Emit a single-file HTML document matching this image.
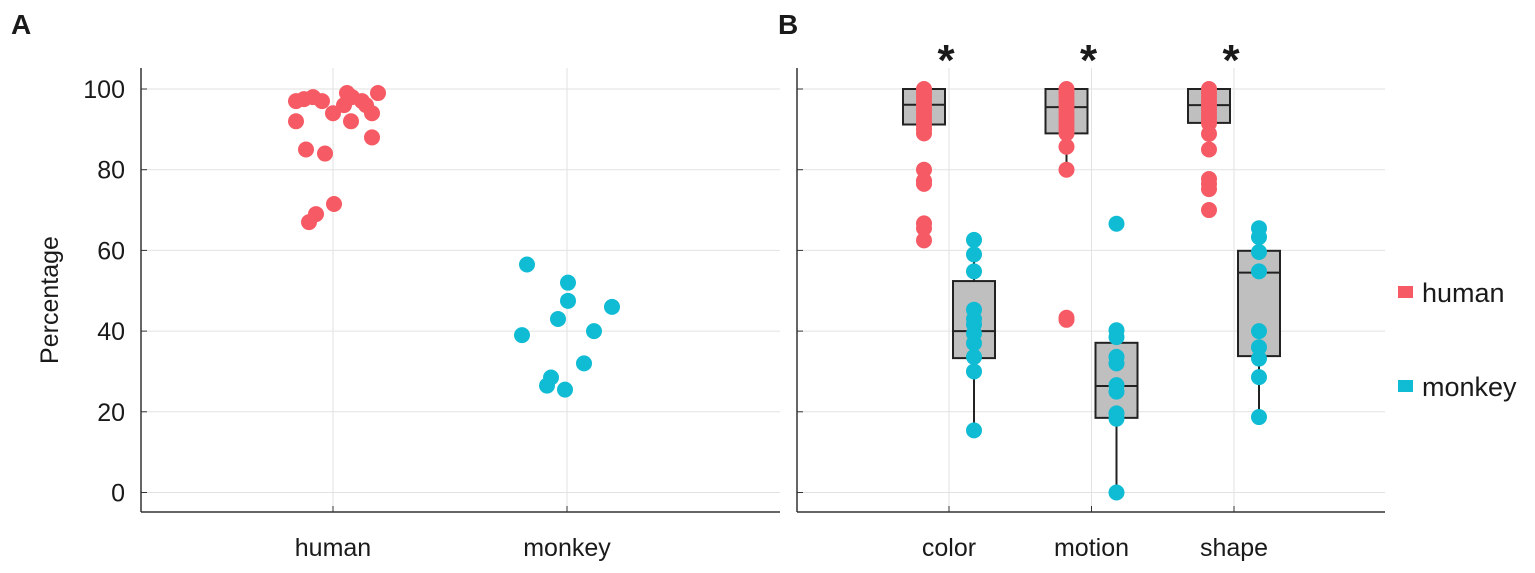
<!DOCTYPE html>
<html><head><meta charset="utf-8"><style>
body{margin:0;background:#fff;}
svg text{font-family:"Liberation Sans",sans-serif;fill:#1a1a1a;}
</style></head><body>
<svg id="chart" width="1535" height="568" viewBox="0 0 1535 568" xmlns="http://www.w3.org/2000/svg"></svg>
<script>
// Panel A data
const catsA = ["human","monkey"];
const humanA = [97,97.5,98,97,94,96,99,98,97,96,94,99,92,92,85,84,88,69,67,71.5];
const humanJit = [-37,-29,-20,-11,0,11,14,19,29,33,39,45,-37,18,-27,-8,39,-17,-24,1];
const monkeyA = [56.5,52,47.5,46,43,40,39,32,28.5,26.5,25.5];
const monkeyJit = [-40,1,1,45,-9,27,-45,17,-16,-20,-2];
// Panel B data
const catsB = ["color","motion","shape"];
const humanB = [
 [100,99,98,97,96,95,94,93,92,91,90,89,80,77.3,76.5,66.7,65.5,62.5],
 [100,99,98,97,96,95,94,93,92,91,90,89,85.7,80,43.3,42.8],
 [100,99,98,97,96,95,94,93,92,91.5,88.9,85,77.7,76.5,75.2,70]
];
const monkeyB = [
 [62.6,59,54.8,45.3,43,41.7,39.4,37,33.6,30,15.4],
 [66.6,40.2,38.5,33.6,32,26.6,25,19.6,18.3,0],
 [65.5,63.3,59.6,54.8,40,36,33.2,28.6,18.7]
];
// box stats: [whiskerLow, q1, median, q3, whiskerHigh]
const humanBox = [[88,91.2,96.1,100,100],[80,89,95.5,100,100],[88.9,91.6,96,100,100]];
const monkeyBox = [[15.4,33.3,40,52.4,62.6],[0,18.5,26.4,37.1,40.2],[18.7,33.8,54.5,59.9,65.5]];
const yTicks = [0,20,40,60,80,100];

const NS="http://www.w3.org/2000/svg";
const svg=document.getElementById('chart');
function mk(tag,attrs,parent){const e=document.createElementNS(NS,tag);for(const k in attrs)e.setAttribute(k,attrs[k]);(parent||svg).appendChild(e);return e;}
const yS=v=>492.5-4.035*v;
const axTop=68,axBottom=512;
const RED="#f65a64",CYAN="#10bcd4";
const xA=i=>333+i*234;
const xB=i=>949+i*142.5;
const FS=25;

// Panel A
let g=mk('g',{});


yTicks.forEach(t=>{
 const l=mk('line',{x1:141,x2:780,y1:yS(t),y2:yS(t),stroke:'#e2e2e2','stroke-width':1},g);
 
 
});
catsA.forEach((c,i)=>{
 const l=mk('line',{x1:xA(i),x2:xA(i),y1:axTop,y2:axBottom,stroke:'#e2e2e2'},g);
 
 
 const t=mk('text',{x:xA(i),y:556,'text-anchor':'middle','font-size':FS},g);t.textContent=c;
 
 
 mk('line',{x1:xA(i),x2:xA(i),y1:axBottom,y2:axBottom-6,stroke:'#333'},g);
});
yTicks.forEach(t=>{
 const tx=mk('text',{x:125,y:yS(t)+9,'text-anchor':'end','font-size':FS},g);tx.textContent=t;
 
 
 mk('line',{x1:141,x2:147,y1:yS(t),y2:yS(t),stroke:'#333'},g);
});
mk('line',{x1:141,x2:141,y1:axTop,y2:axBottom,stroke:'#333','stroke-width':1.5},g);
mk('line',{x1:141,x2:780,y1:axBottom,y2:axBottom,stroke:'#333','stroke-width':1.5},g);
let yl=mk('text',{x:0,y:0,transform:'translate(58,300) rotate(-90)','text-anchor':'middle','font-size':FS},g);yl.textContent='Percentage';


humanA.forEach((v,i)=>{const c=mk('circle',{cx:xA(0)+humanJit[i],cy:yS(v),r:8,fill:RED},g);
 
 });
monkeyA.forEach((v,i)=>{const c=mk('circle',{cx:xA(1)+monkeyJit[i],cy:yS(v),r:8,fill:CYAN},g);
 
 });
let la=mk('text',{x:11,y:34,'font-size':28,'font-weight':'bold'},g);la.textContent='A';



// Panel B
let gb=mk('g',{});


yTicks.forEach(t=>{
 mk('line',{x1:797,x2:1385,y1:yS(t),y2:yS(t),stroke:'#e2e2e2'},gb);
 mk('line',{x1:797,x2:803,y1:yS(t),y2:yS(t),stroke:'#333'},gb);
});
catsB.forEach((c,i)=>{
 mk('line',{x1:xB(i),x2:xB(i),y1:axTop,y2:axBottom,stroke:'#e2e2e2'},gb);
 mk('line',{x1:xB(i),x2:xB(i),y1:axBottom,y2:axBottom-6,stroke:'#333'},gb);
 const t=mk('text',{x:xB(i),y:556,'text-anchor':'middle','font-size':FS},gb);t.textContent=c;
 
 
 const s=mk('text',{x:xB(i)-3,y:75,'text-anchor':'middle','font-size':44,'font-weight':'bold'},gb);s.textContent='*';
 
 
});
mk('line',{x1:797,x2:797,y1:axTop,y2:axBottom,stroke:'#333','stroke-width':1.5},gb);
mk('line',{x1:797,x2:1385,y1:axBottom,y2:axBottom,stroke:'#333','stroke-width':1.5},gb);
function box(cx,b,pts,col,name){
 const w=42;
 mk('line',{x1:cx,x2:cx,y1:yS(b[0]),y2:yS(b[4]),stroke:'#222','stroke-width':2},gb);
 const r=mk('rect',{x:cx-w/2,y:yS(b[3]),width:w,height:yS(b[1])-yS(b[3]),fill:'#bfbfbf',stroke:'#222','stroke-width':2},gb);
 
 
 mk('line',{x1:cx-w/2,x2:cx+w/2,y1:yS(b[2]),y2:yS(b[2]),stroke:'#222','stroke-width':2},gb);
 pts.forEach(v=>{const c=mk('circle',{cx:cx,cy:yS(v),r:8,fill:col},gb);
  
  });
}
catsB.forEach((c,i)=>{
 box(xB(i)-25,humanBox[i],humanB[i],RED,'human-'+c);
 box(xB(i)+25,monkeyBox[i],monkeyB[i],CYAN,'monkey-'+c);
});
let lb=mk('text',{x:778,y:34,'font-size':28,'font-weight':'bold'},gb);lb.textContent='B';



// Legend
let lg=mk('g',{});


[['human',RED,292],['monkey',CYAN,386]].forEach(([n,c,yy])=>{
 const r=mk('rect',{x:1398,y:yy-6,width:15,height:12,fill:c},lg);
 
 
 const t=mk('text',{x:1422,y:yy+10,'font-size':27},lg);t.textContent=n;
 
 
});
</script>
</body></html>
